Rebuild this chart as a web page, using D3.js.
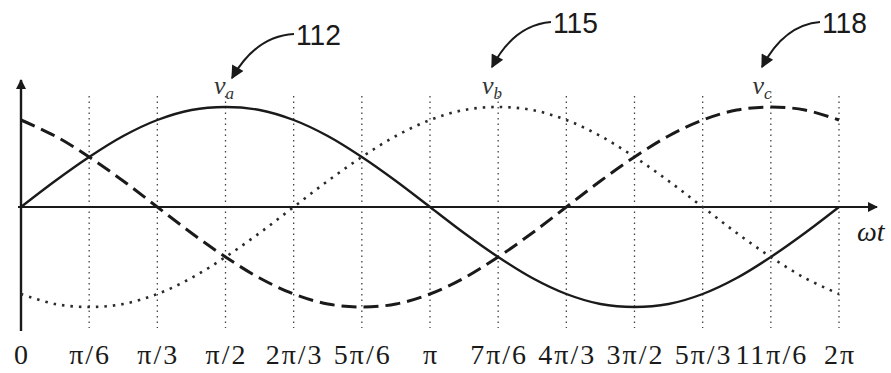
<!DOCTYPE html>
<html><head><meta charset="utf-8">
<script src="https://cdn.jsdelivr.net/npm/d3@7"></script>
<style>body{margin:0;background:#fff}svg{display:block}</style>
</head><body>
<script>
// x positions in multiples of pi/12
const steps = d3.range(0, 25);
const va = [0,0.26,0.5,0.71,0.87,0.97,1.0,0.97,0.87,0.71,0.5,0.26,0,-0.26,-0.5,-0.71,-0.87,-0.97,-1.0,-0.97,-0.87,-0.71,-0.5,-0.26,0];
const vb = [-0.87,-0.97,-1.0,-0.97,-0.87,-0.71,-0.5,-0.26,0,0.26,0.5,0.71,0.87,0.97,1.0,0.97,0.87,0.71,0.5,0.26,0,-0.26,-0.5,-0.71,-0.87];
const vc = [0.87,0.71,0.5,0.26,0,-0.26,-0.5,-0.71,-0.87,-0.97,-1.0,-0.97,-0.87,-0.71,-0.5,-0.26,0,0.26,0.5,0.71,0.87,0.97,1.0,0.97,0.87];
const tickLabels = ["0","π/6","π/3","π/2","2π/3","5π/6","π","7π/6","4π/3","3π/2","5π/3","11π/6","2π"];
const seriesNames = ["v","v","v"];
const seriesSubs = ["a","b","c"];
const refNums = ["112","115","118"];

const W = 891, H = 373;
const svg = d3.select("body").append("svg").attr("width", W).attr("height", H);
const x = d3.scaleLinear().domain([0, 24]).range([21, 839]);
const y = d3.scaleLinear().domain([-1, 1]).range([307, 107]);
const ink = "#1a1a1a";

const defs = svg.append("defs");
defs.append("marker").attr("id","ah").attr("viewBox","0 0 10 10").attr("refX",9).attr("refY",5)
  .attr("markerWidth",12).attr("markerHeight",10).attr("orient","auto").attr("markerUnits","userSpaceOnUse")
  .append("path").attr("d","M0,0 L10,5 L0,10 z").attr("fill",ink);
defs.append("marker").attr("id","ah2").attr("viewBox","0 0 10 10").attr("refX",9).attr("refY",5)
  .attr("markerWidth",18).attr("markerHeight",13).attr("orient","auto").attr("markerUnits","userSpaceOnUse")
  .append("path").attr("d","M0,0 L10,5 L0,10 z").attr("fill",ink);

// grid lines
svg.append("g").selectAll("line").data(d3.range(1, 13)).join("line")
  .attr("x1", d => x(d*2)).attr("x2", d => x(d*2))
  .attr("y1", 96).attr("y2", 328)
  .attr("stroke", "#444").attr("stroke-width", 1.3).attr("stroke-dasharray", "1.5,4");

// axes
svg.append("line").attr("x1", x(0)).attr("x2", x(0)).attr("y1", 331).attr("y2", 80)
  .attr("stroke", ink).attr("stroke-width", 2.4).attr("marker-end","url(#ah)");
svg.append("line").attr("x1", 18).attr("x2", 877).attr("y1", y(0)).attr("y2", y(0))
  .attr("stroke", ink).attr("stroke-width", 2.2).attr("marker-end","url(#ah)");

// curves
const line = d3.line().x((d,i) => x(i)).y(d => y(d)).curve(d3.curveCatmullRom);
svg.append("path").attr("d", line(va)).attr("fill","none").attr("stroke", ink).attr("stroke-width", 2.4);
svg.append("path").attr("d", line(vb)).attr("fill","none").attr("stroke", "#2a2a2a").attr("stroke-width", 2.6)
  .attr("stroke-dasharray","2.5,6");
svg.append("path").attr("d", line(vc)).attr("fill","none").attr("stroke", ink).attr("stroke-width", 3)
  .attr("stroke-dasharray","15,7");

// tick labels
svg.append("g").selectAll("text").data(tickLabels).join("text")
  .attr("x", (d,i) => x(i*2) + 1).attr("y", 364).attr("text-anchor","middle")
  .attr("font-family","'Liberation Serif', serif").attr("font-size", 28)
  .attr("letter-spacing", 2)
  .attr("fill", ink).text(d => d);

// omega t
svg.append("text").attr("x", 857).attr("y", 241)
  .attr("font-family","'Liberation Serif', serif").attr("font-style","italic").attr("font-size", 28)
  .attr("fill", ink).text("ωt");

// series labels
const labelX = [224, 492, 762];
seriesNames.forEach((n,i) => {
  const t = svg.append("text").attr("x", labelX[i]).attr("y", 94).attr("text-anchor","middle")
    .attr("font-family","'Liberation Serif', serif").attr("font-style","italic").attr("font-size", 26)
    .attr("fill", "#333");
  t.append("tspan").text(n);
  t.append("tspan").attr("font-size", 17).attr("dy", 5).text(seriesSubs[i]);
});

// reference numerals and arrows
const refPos = [[296, 45], [553, 33], [822, 33]];
const arrowPaths = [
  "M294,34 Q256,36 232,78",
  "M551,22 Q514,25 492,67",
  "M820,22 Q784,25 762,67"
];
refNums.forEach((r,i) => {
  svg.append("text").attr("x", refPos[i][0]).attr("y", refPos[i][1])
    .attr("font-family","'Liberation Sans', Arial, sans-serif").attr("font-size", 30)
    .attr("textLength", 45).attr("lengthAdjust","spacingAndGlyphs")
    .attr("fill", ink).text(r);
  svg.append("path").attr("d", arrowPaths[i]).attr("fill","none").attr("stroke", ink)
    .attr("stroke-width", 2).attr("marker-end","url(#ah2)");
});
</script>
</body></html>
